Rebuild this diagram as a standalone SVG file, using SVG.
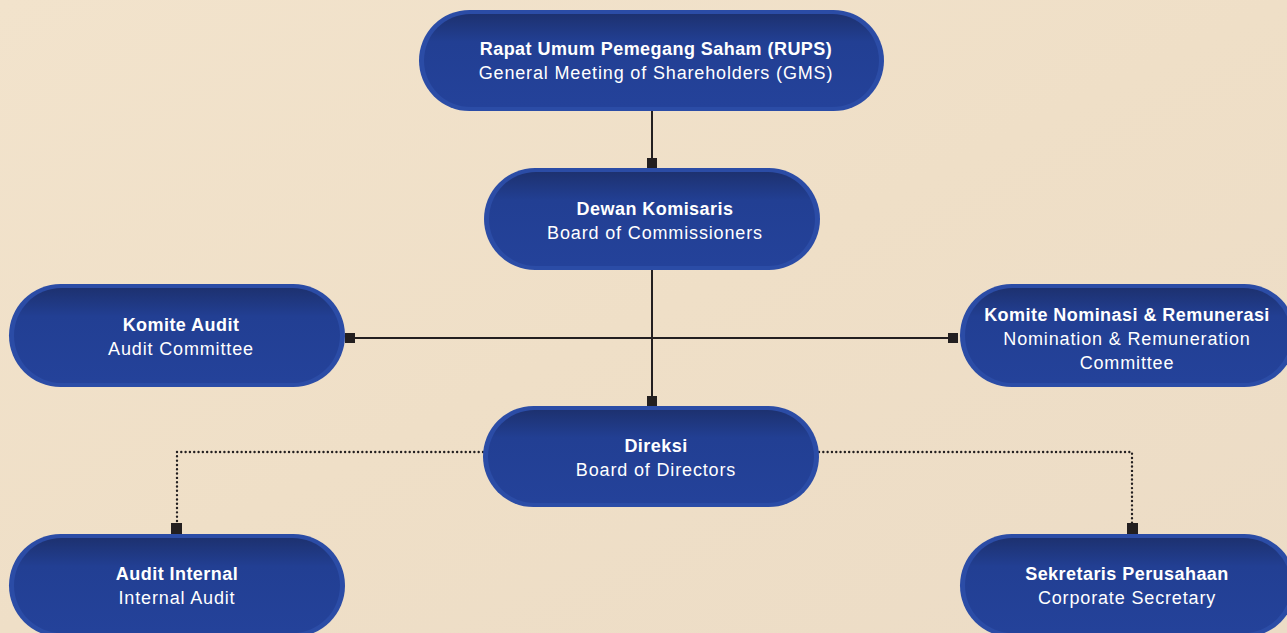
<svg xmlns="http://www.w3.org/2000/svg" width="1287" height="633" viewBox="0 0 1287 633">
<defs>
<linearGradient id="bg" x1="0" y1="0" x2="1" y2="1">
<stop offset="0" stop-color="#f2e3cc"/>
<stop offset="0.5" stop-color="#efdfc7"/>
<stop offset="1" stop-color="#ecdcc6"/>
</linearGradient>
<linearGradient id="nodefill" x1="0" y1="0" x2="0" y2="1">
<stop offset="0" stop-color="#1d3170"/>
<stop offset="0.3" stop-color="#223f93"/>
<stop offset="1" stop-color="#24429a"/>
</linearGradient>
<style>
.node rect.outer{fill:#2b4ca6;}
.node rect.inner{fill:url(#nodefill);}
.t1{font-family:"Liberation Sans",Arial,sans-serif;font-weight:bold;font-size:18px;letter-spacing:0.45px;fill:#ffffff;text-anchor:middle;}
.t2{font-family:"Liberation Sans",Arial,sans-serif;font-size:18px;letter-spacing:0.85px;fill:#ffffff;text-anchor:middle;}
.solid{stroke:#231f20;stroke-width:2;fill:none;}
.dot{stroke:#231f20;stroke-width:2.4;fill:none;stroke-dasharray:0.01 4.3;stroke-linecap:round;}
.sq{fill:#231f20;}
</style>
</defs>
<rect x="0" y="0" width="1287" height="633" fill="url(#bg)"/>

<g id="connectors">
<line class="solid" x1="652" y1="111" x2="652" y2="160"/>
<rect class="sq" x="647" y="158" width="10" height="10"/>
<line class="solid" x1="652" y1="270" x2="652" y2="398"/>
<rect class="sq" x="647" y="396" width="10" height="10"/>
<line class="solid" x1="352" y1="338" x2="952" y2="338"/>
<rect class="sq" x="345" y="333" width="10" height="10"/>
<rect class="sq" x="948" y="333" width="10" height="10"/>
<path class="dot" d="M483 452 H177 V524"/>
<rect class="sq" x="171" y="523" width="11" height="11"/>
<path class="dot" d="M819 452 H1132 V524"/>
<rect class="sq" x="1127" y="523" width="11" height="11"/>
</g>

<g id="rups" class="node">
<rect class="outer" x="419" y="10" width="465" height="101" rx="50.5"/>
<rect class="inner" x="424" y="14" width="455" height="93" rx="46.5"/>
<text class="t1" x="656" y="55">Rapat Umum Pemegang Saham (RUPS)</text>
<text class="t2" x="656" y="79">General Meeting of Shareholders (GMS)</text>
</g>

<g id="dewan" class="node">
<rect class="outer" x="484" y="168" width="336" height="102" rx="51"/>
<rect class="inner" x="489" y="172" width="326" height="94" rx="47"/>
<text class="t1" x="655" y="215">Dewan Komisaris</text>
<text class="t2" x="655" y="239">Board of Commissioners</text>
</g>

<g id="komite-audit" class="node">
<rect class="outer" x="9" y="284" width="336" height="103" rx="51.5"/>
<rect class="inner" x="14" y="288" width="326" height="95" rx="47.5"/>
<text class="t1" x="181" y="331">Komite Audit</text>
<text class="t2" x="181" y="355">Audit Committee</text>
</g>

<g id="komite-nominasi" class="node">
<rect class="outer" x="960" y="284" width="336" height="103" rx="51.5"/>
<rect class="inner" x="965" y="288" width="326" height="95" rx="47.5"/>
<text class="t1" x="1127" y="321">Komite Nominasi &amp; Remunerasi</text>
<text class="t2" x="1127" y="345">Nomination &amp; Remuneration</text>
<text class="t2" x="1127" y="369">Committee</text>
</g>

<g id="direksi" class="node">
<rect class="outer" x="483" y="406" width="336" height="101" rx="50.5"/>
<rect class="inner" x="488" y="410" width="326" height="93" rx="46.5"/>
<text class="t1" x="656" y="452">Direksi</text>
<text class="t2" x="656" y="476">Board of Directors</text>
</g>

<g id="audit-internal" class="node">
<rect class="outer" x="9" y="534" width="336" height="103" rx="51.5"/>
<rect class="inner" x="14" y="538" width="326" height="95" rx="47.5"/>
<text class="t1" x="177" y="580">Audit Internal</text>
<text class="t2" x="177" y="604">Internal Audit</text>
</g>

<g id="sekretaris" class="node">
<rect class="outer" x="960" y="534" width="336" height="103" rx="51.5"/>
<rect class="inner" x="965" y="538" width="326" height="95" rx="47.5"/>
<text class="t1" x="1127" y="580">Sekretaris Perusahaan</text>
<text class="t2" x="1127" y="604">Corporate Secretary</text>
</g>
</svg>
